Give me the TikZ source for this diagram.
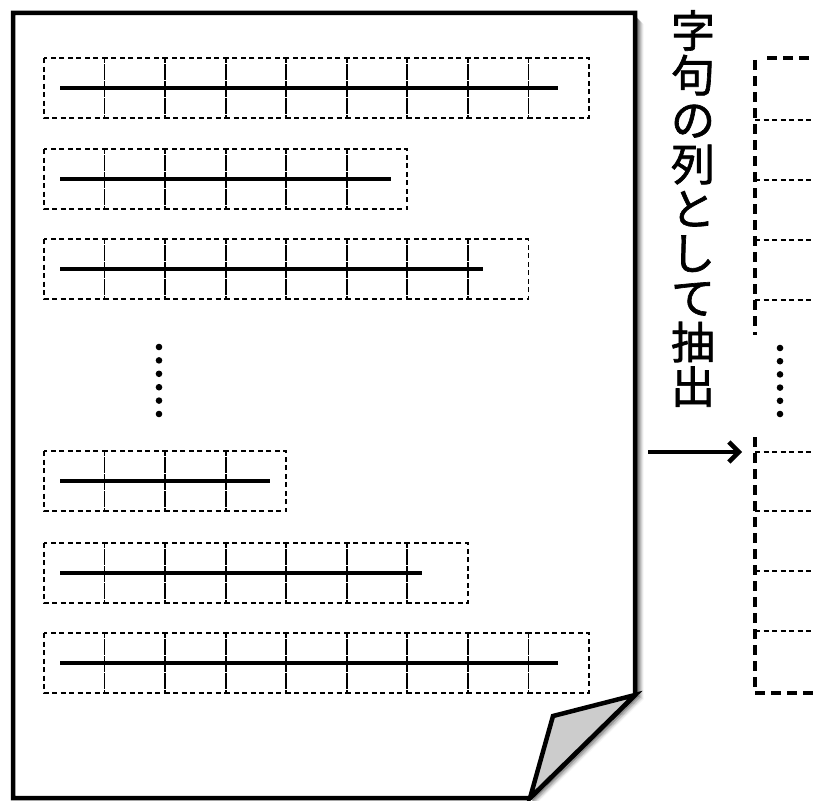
\documentclass[tikz,border=0pt]{standalone}
\usepackage{fontspec}
\newfontfamily\jpfont[FakeBold=1.5]{Noto Sans CJK JP}
\usetikzlibrary{arrows.meta}
\begin{document}
\begin{tikzpicture}[x=1pt,y=-1pt,
  cell/.style={draw,line width=1.8pt,dash pattern=on 5pt off 3.5pt},
  textline/.style={line width=4.5pt},
  outline/.style={line width=4.5pt,line join=miter},
  bigdash/.style={line width=4.5pt,dash pattern=on 10pt off 6pt},
  shadowline/.style={line width=1.6pt,draw=black},
  dotmark/.style={fill=black}]
\useasboundingbox (0,0) rectangle (813,800);
% shadow of the page
\foreach \k/\op in {1/0.45,2/0.38,3/0.31,4/0.24,5/0.18,6/0.12,7/0.07,8/0.03}{
  \draw[shadowline,opacity=\op] (635+\k,{16+\k}) -- (635+\k,{695+\k*0.5}) -- ({530+\k*0.7},{798+\k*0.7});
}
% page
\draw[outline,fill=white] (13,13) -- (635,13) -- (635,695) -- (530,798) -- (13,798) -- cycle;
\draw[outline,fill=black!20] (635,695) -- (553,716) -- (530,798) -- cycle;
% rows of cells
\foreach \yt/\n/\le in {58/9/558, 149/6/391, 239/8/483, 451/4/270, 543/7/422, 633/9/558}{
  \foreach \i in {1,...,\n}{
    \draw[cell] ({44+(\i-1)*60.55},\yt) rectangle ({44+\i*60.55},\yt+60);
  }
  \draw[textline] (60,\yt+30) -- (\le,\yt+30);
}
% dots on page
\foreach \k in {0,...,5}{ \fill[dotmark] (159,{347+\k*13.4}) circle (3.3); }
% vertical text
\node[font=\jpfont\fontsize{44}{44.5}\selectfont,align=center,anchor=north,inner sep=0pt] (label) at (693,10)
  {字\\句\\の\\列\\と\\し\\て\\抽\\出};
% arrow
\coordinate (a0) at (648,452);
\coordinate (a1) at (742,452);
\draw[line width=4.5pt,-{Straight Barb[length=10pt,width=20pt,line width=4.5pt]}] (a0) -- (a1);
% right column
\begin{scope}
\clip (740,0) rectangle (813,800);
\foreach \y in {120,180,240,300,452,511,571,631}{
  \draw[cell] (755,\y) -- (830,\y);
}
\draw[bigdash] (755,60) -- (755,335);
\draw[bigdash] (767,58) -- (830,58);
\draw[bigdash] (755,437) -- (755,693) -- (830,693);
\end{scope}
\foreach \k in {0,...,5}{ \fill[dotmark] (780,{348+\k*13.2}) circle (3.3); }
\end{tikzpicture}
\end{document}
